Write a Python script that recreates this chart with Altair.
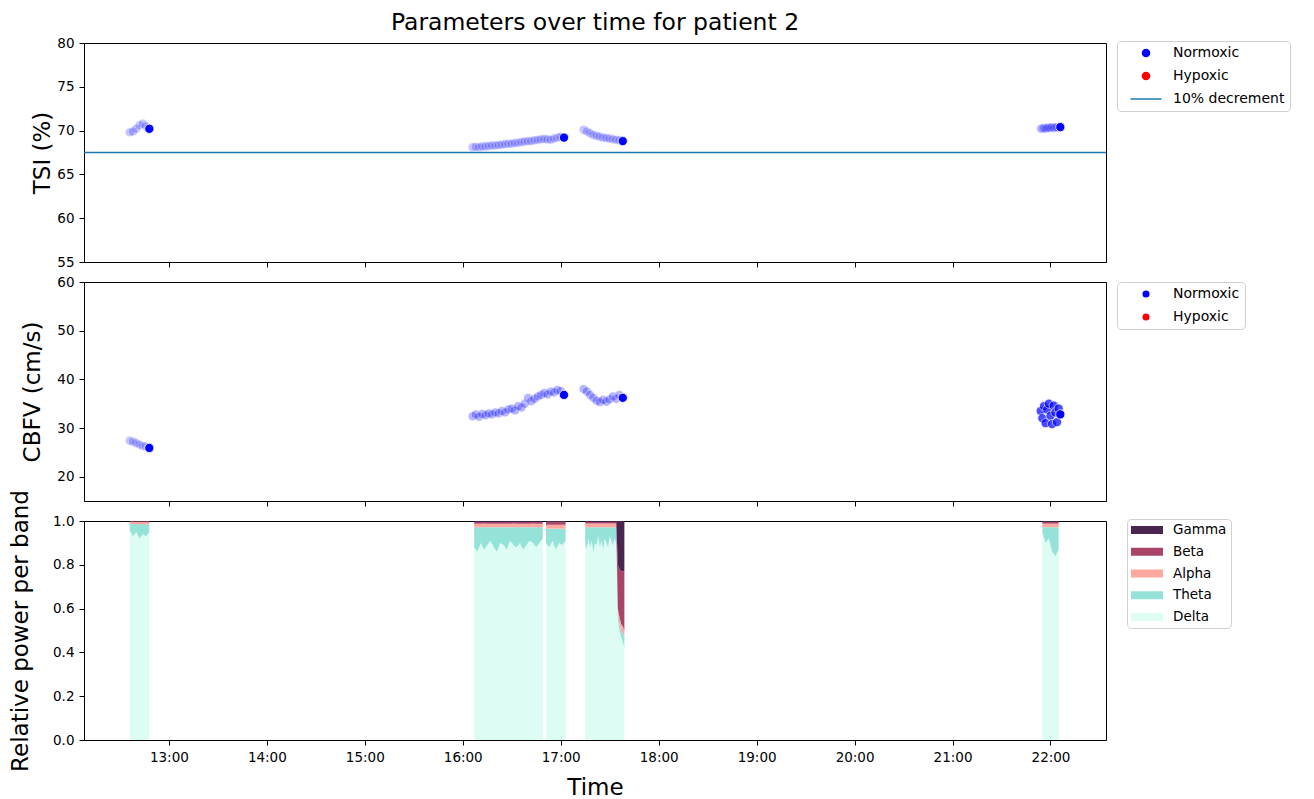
import altair as alt
import pandas as pd

DAY = "2024-01-01"

# ---------------- vital signs, one row per sample ----------------
vital_block_start = ["12:36", "16:06", "17:14", "21:54"]
vital_block_step = [2, 2, 2, 1]  # minutes between samples

tsi_block1 = [69.8, 69.9, 70.2, 70.6, 70.8, 70.5, 70.2]
tsi_block2 = [68.1, 68.15, 68.1, 68.2, 68.2, 68.25, 68.3, 68.3, 68.35, 68.4,
              68.45, 68.5, 68.5, 68.6, 68.6, 68.7, 68.75, 68.8, 68.8, 68.9,
              68.95, 69.0, 69.05, 69.0, 68.95, 69.1, 69.2, 69.3, 69.2]
tsi_block3 = [70.1, 69.9, 69.7, 69.5, 69.4, 69.3, 69.2, 69.15, 69.1, 69.0, 68.95, 68.9, 68.8]
tsi_block4 = [70.2, 70.25, 70.3, 70.2, 70.3, 70.35, 70.3, 70.4, 70.3, 70.35, 70.4, 70.3, 70.4]

cbfv_block1 = [27.4, 27.2, 26.9, 26.6, 26.3, 26.2, 25.9]
cbfv_block2 = [32.4, 32.8, 32.3, 32.9, 32.6, 33.0, 32.8, 33.2, 33.0, 33.5,
               33.2, 33.8, 34.0, 33.6, 34.5, 34.2, 35.0, 36.2, 35.5, 36.0,
               36.5, 36.8, 37.2, 36.9, 37.5, 37.3, 37.8, 37.6, 36.8]
cbfv_block3 = [38.0, 37.5, 36.8, 36.2, 35.6, 35.3, 35.8, 35.4, 35.9, 36.5, 36.0, 36.8, 36.2]
cbfv_block4 = [33.5, 32.0, 34.5, 31.0, 33.8, 35.0, 32.5, 30.8, 34.6, 33.2, 31.2, 34.0, 32.8]

tsi_blocks = [tsi_block1, tsi_block2, tsi_block3, tsi_block4]
cbfv_blocks = [cbfv_block1, cbfv_block2, cbfv_block3, cbfv_block4]

status_domain = ["Normoxic", "Hypoxic", "10% decrement"]
status_colors = ["blue", "red", "#1f77b4"]
tsi_threshold = [67.5]

# ---------------- EEG relative band power ----------------
eeg_block_start = ["12:36", "16:07", "16:51", "17:15", "21:55"]
eeg_block_step = [2, 2, 2, 1, 2]  # minutes between samples
bands = ["Gamma", "Beta", "Alpha", "Theta", "Delta"]
band_colors = ["#4a2550", "#a84468", "#ffa8a0", "#95e2d8", "#dcfcf4"]

delta_a = [0.960, 0.930, 0.950, 0.920, 0.940, 0.930, 0.950]
theta_a = [0.028, 0.056, 0.036, 0.064, 0.046, 0.054, 0.036]
alpha_a = [0.008, 0.009, 0.009, 0.010, 0.009, 0.010, 0.009]
beta_a = [0.003, 0.004, 0.004, 0.005, 0.004, 0.005, 0.004]
gamma_a = [0.001, 0.001, 0.001, 0.001, 0.001, 0.001, 0.001]

delta_b1 = [0.880, 0.860, 0.900, 0.870, 0.890, 0.910, 0.880, 0.860, 0.900, 0.890, 0.870,
            0.910, 0.890, 0.880, 0.900, 0.870, 0.890, 0.910, 0.900, 0.880, 0.900, 0.920]
theta_b1 = [0.092, 0.112, 0.072, 0.102, 0.082, 0.062, 0.092, 0.112, 0.072, 0.082, 0.102,
            0.062, 0.082, 0.092, 0.072, 0.102, 0.082, 0.062, 0.072, 0.092, 0.072, 0.052]
alpha_b1 = [0.016, 0.015, 0.016, 0.017, 0.016, 0.015, 0.016, 0.015, 0.016, 0.016, 0.015,
            0.016, 0.017, 0.016, 0.016, 0.015, 0.016, 0.016, 0.017, 0.016, 0.016, 0.016]
beta_b1 = [0.009, 0.010, 0.009, 0.008, 0.009, 0.010, 0.009, 0.010, 0.009, 0.009, 0.010,
           0.009, 0.008, 0.009, 0.009, 0.010, 0.009, 0.009, 0.008, 0.009, 0.009, 0.009]
gamma_b1 = [0.003, 0.003, 0.003, 0.003, 0.003, 0.003, 0.003, 0.003, 0.003, 0.003, 0.003,
            0.003, 0.003, 0.003, 0.003, 0.003, 0.003, 0.003, 0.003, 0.003, 0.003, 0.003]

delta_b2 = [0.900, 0.880, 0.910, 0.870, 0.900, 0.890, 0.910]
theta_b2 = [0.065, 0.085, 0.055, 0.095, 0.065, 0.075, 0.055]
alpha_b2 = [0.018, 0.018, 0.018, 0.018, 0.018, 0.018, 0.018]
beta_b2 = [0.012, 0.012, 0.012, 0.012, 0.012, 0.012, 0.012]
gamma_b2 = [0.005, 0.005, 0.005, 0.005, 0.005, 0.005, 0.005]

# one-minute samples; the burst of fast activity closes the block
delta_c = [0.900, 0.870, 0.920, 0.880, 0.910, 0.860, 0.900, 0.890, 0.930, 0.880,
           0.910, 0.870, 0.920, 0.900, 0.880, 0.930, 0.910, 0.890, 0.920, 0.900,
           0.550, 0.500, 0.470, 0.450, 0.420]
theta_c = [0.071, 0.101, 0.051, 0.091, 0.061, 0.111, 0.071, 0.081, 0.041, 0.091,
           0.061, 0.101, 0.051, 0.071, 0.091, 0.041, 0.061, 0.081, 0.051, 0.071,
           0.030, 0.030, 0.030, 0.040, 0.050]
alpha_c = [0.018, 0.018, 0.018, 0.018, 0.018, 0.018, 0.018, 0.018, 0.018, 0.018,
           0.018, 0.018, 0.018, 0.018, 0.018, 0.018, 0.018, 0.018, 0.018, 0.018,
           0.020, 0.030, 0.030, 0.030, 0.030]
beta_c = [0.008, 0.008, 0.008, 0.008, 0.008, 0.008, 0.008, 0.008, 0.008, 0.008,
          0.008, 0.008, 0.008, 0.008, 0.008, 0.008, 0.008, 0.008, 0.008, 0.008,
          0.200, 0.220, 0.240, 0.250, 0.270]
gamma_c = [0.003, 0.003, 0.003, 0.003, 0.003, 0.003, 0.003, 0.003, 0.003, 0.003,
           0.003, 0.003, 0.003, 0.003, 0.003, 0.003, 0.003, 0.003, 0.003, 0.003,
           0.200, 0.220, 0.230, 0.230, 0.230]

delta_d = [0.950, 0.900, 0.920, 0.860, 0.840, 0.870]
theta_d = [0.022, 0.072, 0.052, 0.112, 0.132, 0.102]
alpha_d = [0.016, 0.016, 0.016, 0.016, 0.016, 0.016]
beta_d = [0.009, 0.009, 0.009, 0.009, 0.009, 0.009]
gamma_d = [0.003, 0.003, 0.003, 0.003, 0.003, 0.003]

eeg_blocks = [
    {"Delta": delta_a, "Theta": theta_a, "Alpha": alpha_a, "Beta": beta_a, "Gamma": gamma_a},
    {"Delta": delta_b1, "Theta": theta_b1, "Alpha": alpha_b1, "Beta": beta_b1, "Gamma": gamma_b1},
    {"Delta": delta_b2, "Theta": theta_b2, "Alpha": alpha_b2, "Beta": beta_b2, "Gamma": gamma_b2},
    {"Delta": delta_c, "Theta": theta_c, "Alpha": alpha_c, "Beta": beta_c, "Gamma": gamma_c},
    {"Delta": delta_d, "Theta": theta_d, "Alpha": alpha_d, "Beta": beta_d, "Gamma": gamma_d},
]

hour_ticks = list(range(13, 23))


def clock(hhmm):
    return pd.Timestamp(f"{DAY} {hhmm}")


def block_times(start, n, step=2):
    t0 = clock(start)
    return [t0 + pd.Timedelta(minutes=step * i) for i in range(n)]


# faint markers, the last sample of every block drawn solid
tsi_fade = [0.22, 0.22, 0.22, 0.22]
cbfv_fade = [0.22, 0.28, 0.28, 0.7]

vital_rows = []
for b, start in enumerate(vital_block_start):
    times = block_times(start, len(tsi_blocks[b]), vital_block_step[b])
    n = len(times)
    for i, t in enumerate(times):
        last = i == n - 1
        vital_rows.append({
            "time": t,
            "tsi": tsi_blocks[b][i],
            "cbfv": cbfv_blocks[b][i],
            "tsi_op": 1.0 if last else tsi_fade[b],
            "cbfv_op": 1.0 if last else cbfv_fade[b],
            "status": "Normoxic",
            "block": b,
        })
vitals = pd.DataFrame(vital_rows)

eeg_rows = []
for b, start in enumerate(eeg_block_start):
    block = eeg_blocks[b]
    times = block_times(start, len(block["Delta"]), eeg_block_step[b])
    for i, t in enumerate(times):
        for rank, band in enumerate(["Delta", "Theta", "Alpha", "Beta", "Gamma"]):
            eeg_rows.append({"time": t, "band": band, "power": block[band][i],
                             "rank": rank, "block": b})
eeg = pd.DataFrame(eeg_rows)

threshold = pd.DataFrame({"tsi": tsi_threshold})


def dt(h, m=0):
    return alt.DateTime(year=2024, month=1, date=1, hours=h, minutes=m)


x_scale = alt.Scale(domain=[dt(12, 8), dt(22, 34)])
tick_values = [dt(h) for h in hour_ticks]

x_hidden = alt.Axis(values=tick_values, labels=False, title=None, grid=False)
x_shown = alt.Axis(values=tick_values, format="%H:%M", title="Time", grid=False,
                   titleY=47, titleBaseline="middle")

W, H = 1022, 219

# ---------------- legends ----------------
is_line = "datum.value === '10% decrement'"


def vital_legend(y):
    return alt.Legend(
        title=None, orient="none", legendX=1033, legendY=y,
        symbolType={"expr": f"{is_line} ? 'stroke' : 'circle'"},
        symbolSize={"expr": f"{is_line} ? 961 : 50"},
        symbolStrokeColor={"expr": f"{is_line} ? '#1f77b4' : 'transparent'"},
        symbolStrokeWidth=1.5, symbolOpacity=1, symbolOffset=17,
        clipHeight=14, rowPadding=9, padding=5,
        labelOffset=20, labelFontSize=14, labelColor="black",
        strokeColor="#d0d0d0", fillColor="white", cornerRadius=4,
    )


band_stroke = "{" + ",".join(f"'{b}':'{c}'" for b, c in zip(bands, band_colors)) + "}[datum.value]"
band_legend = alt.Legend(
    title=None, orient="none", legendX=1043, legendY=-2,
    symbolType="stroke", symbolSize=1024, symbolStrokeWidth=8,
    symbolStrokeColor={"expr": band_stroke}, symbolOpacity=1, symbolOffset=-4,
    clipHeight=14, rowPadding=7.75, padding=4, labelOffset=6,
    labelFontSize=13.5, labelColor="black",
    strokeColor="#d0d0d0", fillColor="white", cornerRadius=4,
)

# ---------------- TSI panel ----------------
tsi_color = alt.Color("status:N", scale=alt.Scale(domain=status_domain, range=status_colors),
                      legend=vital_legend(-2))

tsi_points = alt.Chart(vitals).mark_circle(size=85, stroke="white", strokeWidth=0.8).encode(
    x=alt.X("time:T", scale=x_scale, axis=x_hidden),
    y=alt.Y("tsi:Q", scale=alt.Scale(domain=[55, 80], nice=False, zero=False),
            axis=alt.Axis(values=[55, 60, 65, 70, 75, 80], title="TSI (%)",
                          titleX=-42, titleBaseline="middle", grid=False)),
    color=tsi_color,
    opacity=alt.Opacity("tsi_op:Q", scale=None, legend=None),
)
tsi_line = alt.Chart(threshold).mark_rule(strokeWidth=1.5).encode(
    y="tsi:Q",
    color=alt.datum("10% decrement"),
)
tsi_panel = alt.layer(tsi_points, tsi_line).properties(
    width=W, height=H,
    title=alt.Title("Parameters over time for patient 2", fontSize=23.5, fontWeight="normal",
                    anchor="middle", frame="group", offset=2, color="black"),
)

# ---------------- CBFV panel ----------------
cbfv_panel = alt.Chart(vitals).mark_circle(size=85, stroke="white", strokeWidth=0.8).encode(
    x=alt.X("time:T", scale=x_scale, axis=x_hidden),
    y=alt.Y("cbfv:Q", scale=alt.Scale(domain=[15, 60], nice=False, zero=False),
            axis=alt.Axis(values=[20, 30, 40, 50, 60], title="CBFV (cm/s)",
                          titleX=-52, titleBaseline="middle", grid=False)),
    color=alt.Color("status:N", scale=alt.Scale(domain=status_domain[:2], range=status_colors[:2]),
                    legend=vital_legend(0)),
    opacity=alt.Opacity("cbfv_op:Q", scale=None, legend=None),
).properties(width=W, height=H)

# ---------------- EEG panel: bands stacked per sample, one area per band and block ----------------
eeg_panel = alt.Chart(eeg).transform_stack(
    stack="power", groupby=["time"], sort=[alt.SortField("rank")], as_=["p0", "p1"]
).mark_area(interpolate="linear", clip=True).encode(
    x=alt.X("time:T", scale=x_scale, axis=x_shown),
    y=alt.Y("p0:Q", scale=alt.Scale(domain=[0, 1], nice=False),
            axis=alt.Axis(values=[0, 0.2, 0.4, 0.6, 0.8, 1.0], format=".1f",
                          title="Relative power per band", titleX=-64,
                          titleBaseline="middle", grid=False)),
    y2="p1:Q",
    color=alt.Color("band:N", scale=alt.Scale(domain=bands, range=band_colors), legend=band_legend),
    detail="block:N",
).properties(width=W, height=H)

chart = (
    alt.vconcat(tsi_panel, cbfv_panel, eeg_panel, spacing=20, bounds="flush")
    .resolve_scale(color="independent")
    .resolve_legend(color="independent")
    .properties(padding={"left": 8, "top": 10, "right": 10, "bottom": 0}, background="white")
    .configure(font="DejaVu Sans")
    .configure_view(stroke="black", strokeWidth=1)
    .configure_axis(
        labelFont="DejaVu Sans", labelFontSize=13.5, labelColor="black",
        tickColor="black", domainColor="black", tickSize=5, tickWidth=1,
        labelPadding=5, titleFont="DejaVu Sans", titleFontSize=23,
        titleFontWeight="normal", titleColor="black",
    )
    .configure_legend(labelFont="DejaVu Sans")
)

chart.save("out.html", embed_options={"renderer": "svg", "actions": False})
